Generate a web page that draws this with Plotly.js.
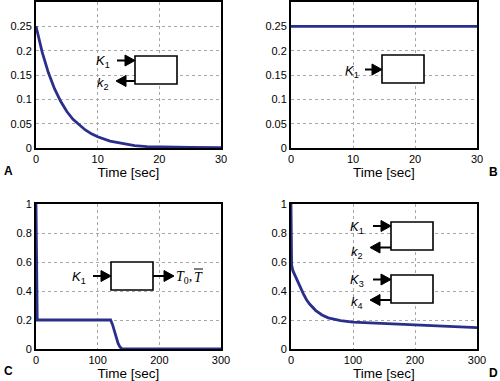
<!DOCTYPE html>
<html><head><meta charset="utf-8">
<script src="https://cdn.plot.ly/plotly-3.0.1.min.js"></script>
<style>html,body{margin:0;padding:0;background:#fff}</style>
</head><body><div id="chart" style="width:500px;height:381px"></div>
<script>
// Panel A: decay
var tA = [0,1,2,3,4,5,6,7,8,9,10,12,14,16,18,20,25,30];
var yA = [0.25,0.197,0.155,0.122,0.096,0.075,0.059,0.047,0.037,0.029,0.023,0.014,0.009,0.005,0.003,0.002,0.001,0.0005];
// Panel B: constant
var tB = [0,30];
var yB = [0.25,0.25];
// Panel C
var tC = [0,0.5,1,1.5,2,60,121,124,127,130,133,136,139,142,200,300];
var yC = [1,0.6,0.3,0.21,0.2,0.2,0.2,0.17,0.125,0.08,0.04,0.015,0.003,0,0,0];
// Panel D
var tD = [0,0.5,1,3,6,10,15,20,25,30,40,50,60,70,80,100,150,200,250,300];
var yD = [1,0.7,0.58,0.54,0.51,0.47,0.42,0.38,0.34,0.31,0.265,0.235,0.215,0.205,0.195,0.185,0.175,0.165,0.157,0.148];

var xTicksTop = [0,10,20,30];
var xTicksBot = [0,100,200,300];
var yTicksTop = [0,0.05,0.1,0.15,0.2,0.25];
var yTicksBot = [0,0.2,0.4,0.6,0.8,1];
var yTickTextTop = ['0','0.05','0.1','0.15','0.2','0.25'];
var yTickTextBot = ['0','0.2','0.4','0.6','0.8','1'];
var panelLetters = ['A','B','C','D'];
var xTitle = 'Time [sec]';

var W = 500, H = 381;
function px(x){return x/W;}
function py(y){return 1 - y/H;}

var lineColor = '#2b2f8c';
var traces = [
  {x:tA,y:yA,xaxis:'x',yaxis:'y'},
  {x:tB,y:yB,xaxis:'x2',yaxis:'y2'},
  {x:tC,y:yC,xaxis:'x3',yaxis:'y3'},
  {x:tD,y:yD,xaxis:'x4',yaxis:'y4'}
].map(function(t){t.type='scatter';t.mode='lines';t.line={color:lineColor,width:2.8};t.hoverinfo='skip';return t;});

var font = {family:'Liberation Sans, Arial, sans-serif', size:11, color:'#000'};
function xax(domain, ticks, rng, anchor){
  return {domain:domain, range:rng, tickvals:ticks, ticktext:ticks.map(String), anchor:anchor,
    showline:true, mirror:true, linecolor:'#000', linewidth:2, zeroline:false,
    showgrid:true, gridcolor:'#a8a8a8', griddash:'dot', gridwidth:1, ticks:'', tickfont:font,
    title:{text:xTitle, font:{family:'Liberation Sans, Arial, sans-serif', size:13.5, color:'#000', weight:'normal'}, standoff:3},
    fixedrange:true, automargin:false};
}
function yax(domain, ticks, text, rng, anchor){
  return {domain:domain, range:rng, tickvals:ticks, ticktext:text, anchor:anchor,
    showline:true, mirror:true, linecolor:'#000', linewidth:2, zeroline:false,
    showgrid:true, gridcolor:'#a8a8a8', griddash:'dot', gridwidth:1, ticks:'', tickfont:font,
    fixedrange:true, automargin:false};
}
var dxL = [px(36), px(221)], dxR = [px(291), px(477)];
var dyT = [py(148), py(2)], dyB = [py(349), py(204)];

var shapes = [], annotations = [];
function rect(x0,y0,x1,y1){
  shapes.push({type:'rect', xref:'paper', yref:'paper', x0:px(x0), x1:px(x1), y0:py(y0), y1:py(y1), line:{color:'#000', width:1.6}, fillcolor:'#fff'});
}
function hline(x0,x1,y,w){
  shapes.push({type:'line', xref:'paper', yref:'paper', x0:px(x0), x1:px(x1), y0:py(y), y1:py(y), line:{color:'#000', width:w||1.8}});
}
function arrow(xs, xe, y){
  var dir = xe > xs ? 1 : -1;
  var hl = 10, hw = 5.5;
  var xb = xe - dir*hl;
  hline(xs, xb, y, 2);
  var p = 'M '+px(xe)+' '+py(y)+' L '+px(xb)+' '+py(y-hw)+' L '+px(xb)+' '+py(y+hw)+' Z';
  shapes.push({type:'path', xref:'paper', yref:'paper', path:p, fillcolor:'#000', line:{color:'#000', width:1}});
}
function label(text, x, y, fam, size, anchor){
  annotations.push({text:text, xref:'paper', yref:'paper', x:px(x), y:py(y), showarrow:false,
    xanchor:anchor||'center', yanchor:'middle', font:{family:fam||'Liberation Sans, Arial, sans-serif', size:size||13, color:'#000'}});
}

// Panel A diagram
rect(135,56,177,84);
arrow(117,135,60.5);
arrow(135,116,81);
label('<i>K</i><sub>1</sub>', 103, 61);
label('<i>k</i><sub>2</sub>', 103, 83);
// Panel B diagram
rect(382,55,424,83);
arrow(365,382,69.5);
label('<i>K</i><sub>1</sub>', 352, 71);
// Panel C diagram
rect(111,262,153,290);
arrow(93,111,276);
arrow(153,174,276);
label('<i>K</i><sub>1</sub>', 79, 277);
var serif = 'Liberation Serif, Times New Roman, serif';
label('<i>T</i><sub>0</sub>,', 174, 277, serif, 14, 'left');
label('<i>T</i>', 198, 277, serif, 14, 'center');
hline(194, 203, 269, 1);
// Panel D diagrams
rect(391,222,433,250);
arrow(373,391,226);
arrow(391,370,247.5);
rect(391,275,433,303);
arrow(373,391,279.5);
arrow(391,370,300);
label('<i>K</i><sub>1</sub>', 357, 227);
label('<i>k</i><sub>2</sub>', 357, 252);
label('<i>K</i><sub>3</sub>', 357, 280);
label('<i>k</i><sub>4</sub>', 357, 302);

// panel letters
var letterPos = [[8,171],[493,172],[8,371],[493,373]];
panelLetters.forEach(function(l,i){
  annotations.push({text:'<b>'+l+'</b>', xref:'paper', yref:'paper', x:px(letterPos[i][0]), y:py(letterPos[i][1]), showarrow:false,
    xanchor:'center', yanchor:'middle', font:{family:'Liberation Sans, Arial, sans-serif', size:12, color:'#000'}});
});

var layout = {
  width:W, height:H, margin:{l:0,r:0,t:0,b:0}, paper_bgcolor:'#fff', plot_bgcolor:'#fff', showlegend:false,
  xaxis: xax(dxL, xTicksTop, [0,30], 'y'),
  yaxis: yax(dyT, yTicksTop, yTickTextTop, [0,0.3], 'x'),
  xaxis2: xax(dxR, xTicksTop, [0,30], 'y2'),
  yaxis2: yax(dyT, yTicksTop, yTickTextTop, [0,0.3], 'x2'),
  xaxis3: xax(dxL, xTicksBot, [0,300], 'y3'),
  yaxis3: yax(dyB, yTicksBot, yTickTextBot, [0,1], 'x3'),
  xaxis4: xax(dxR, xTicksBot, [0,300], 'y4'),
  yaxis4: yax(dyB, yTicksBot, yTickTextBot, [0,1], 'x4'),
  shapes:shapes, annotations:annotations
};
Plotly.newPlot('chart', traces, layout, {displayModeBar:false, staticPlot:true});
</script></body></html>
